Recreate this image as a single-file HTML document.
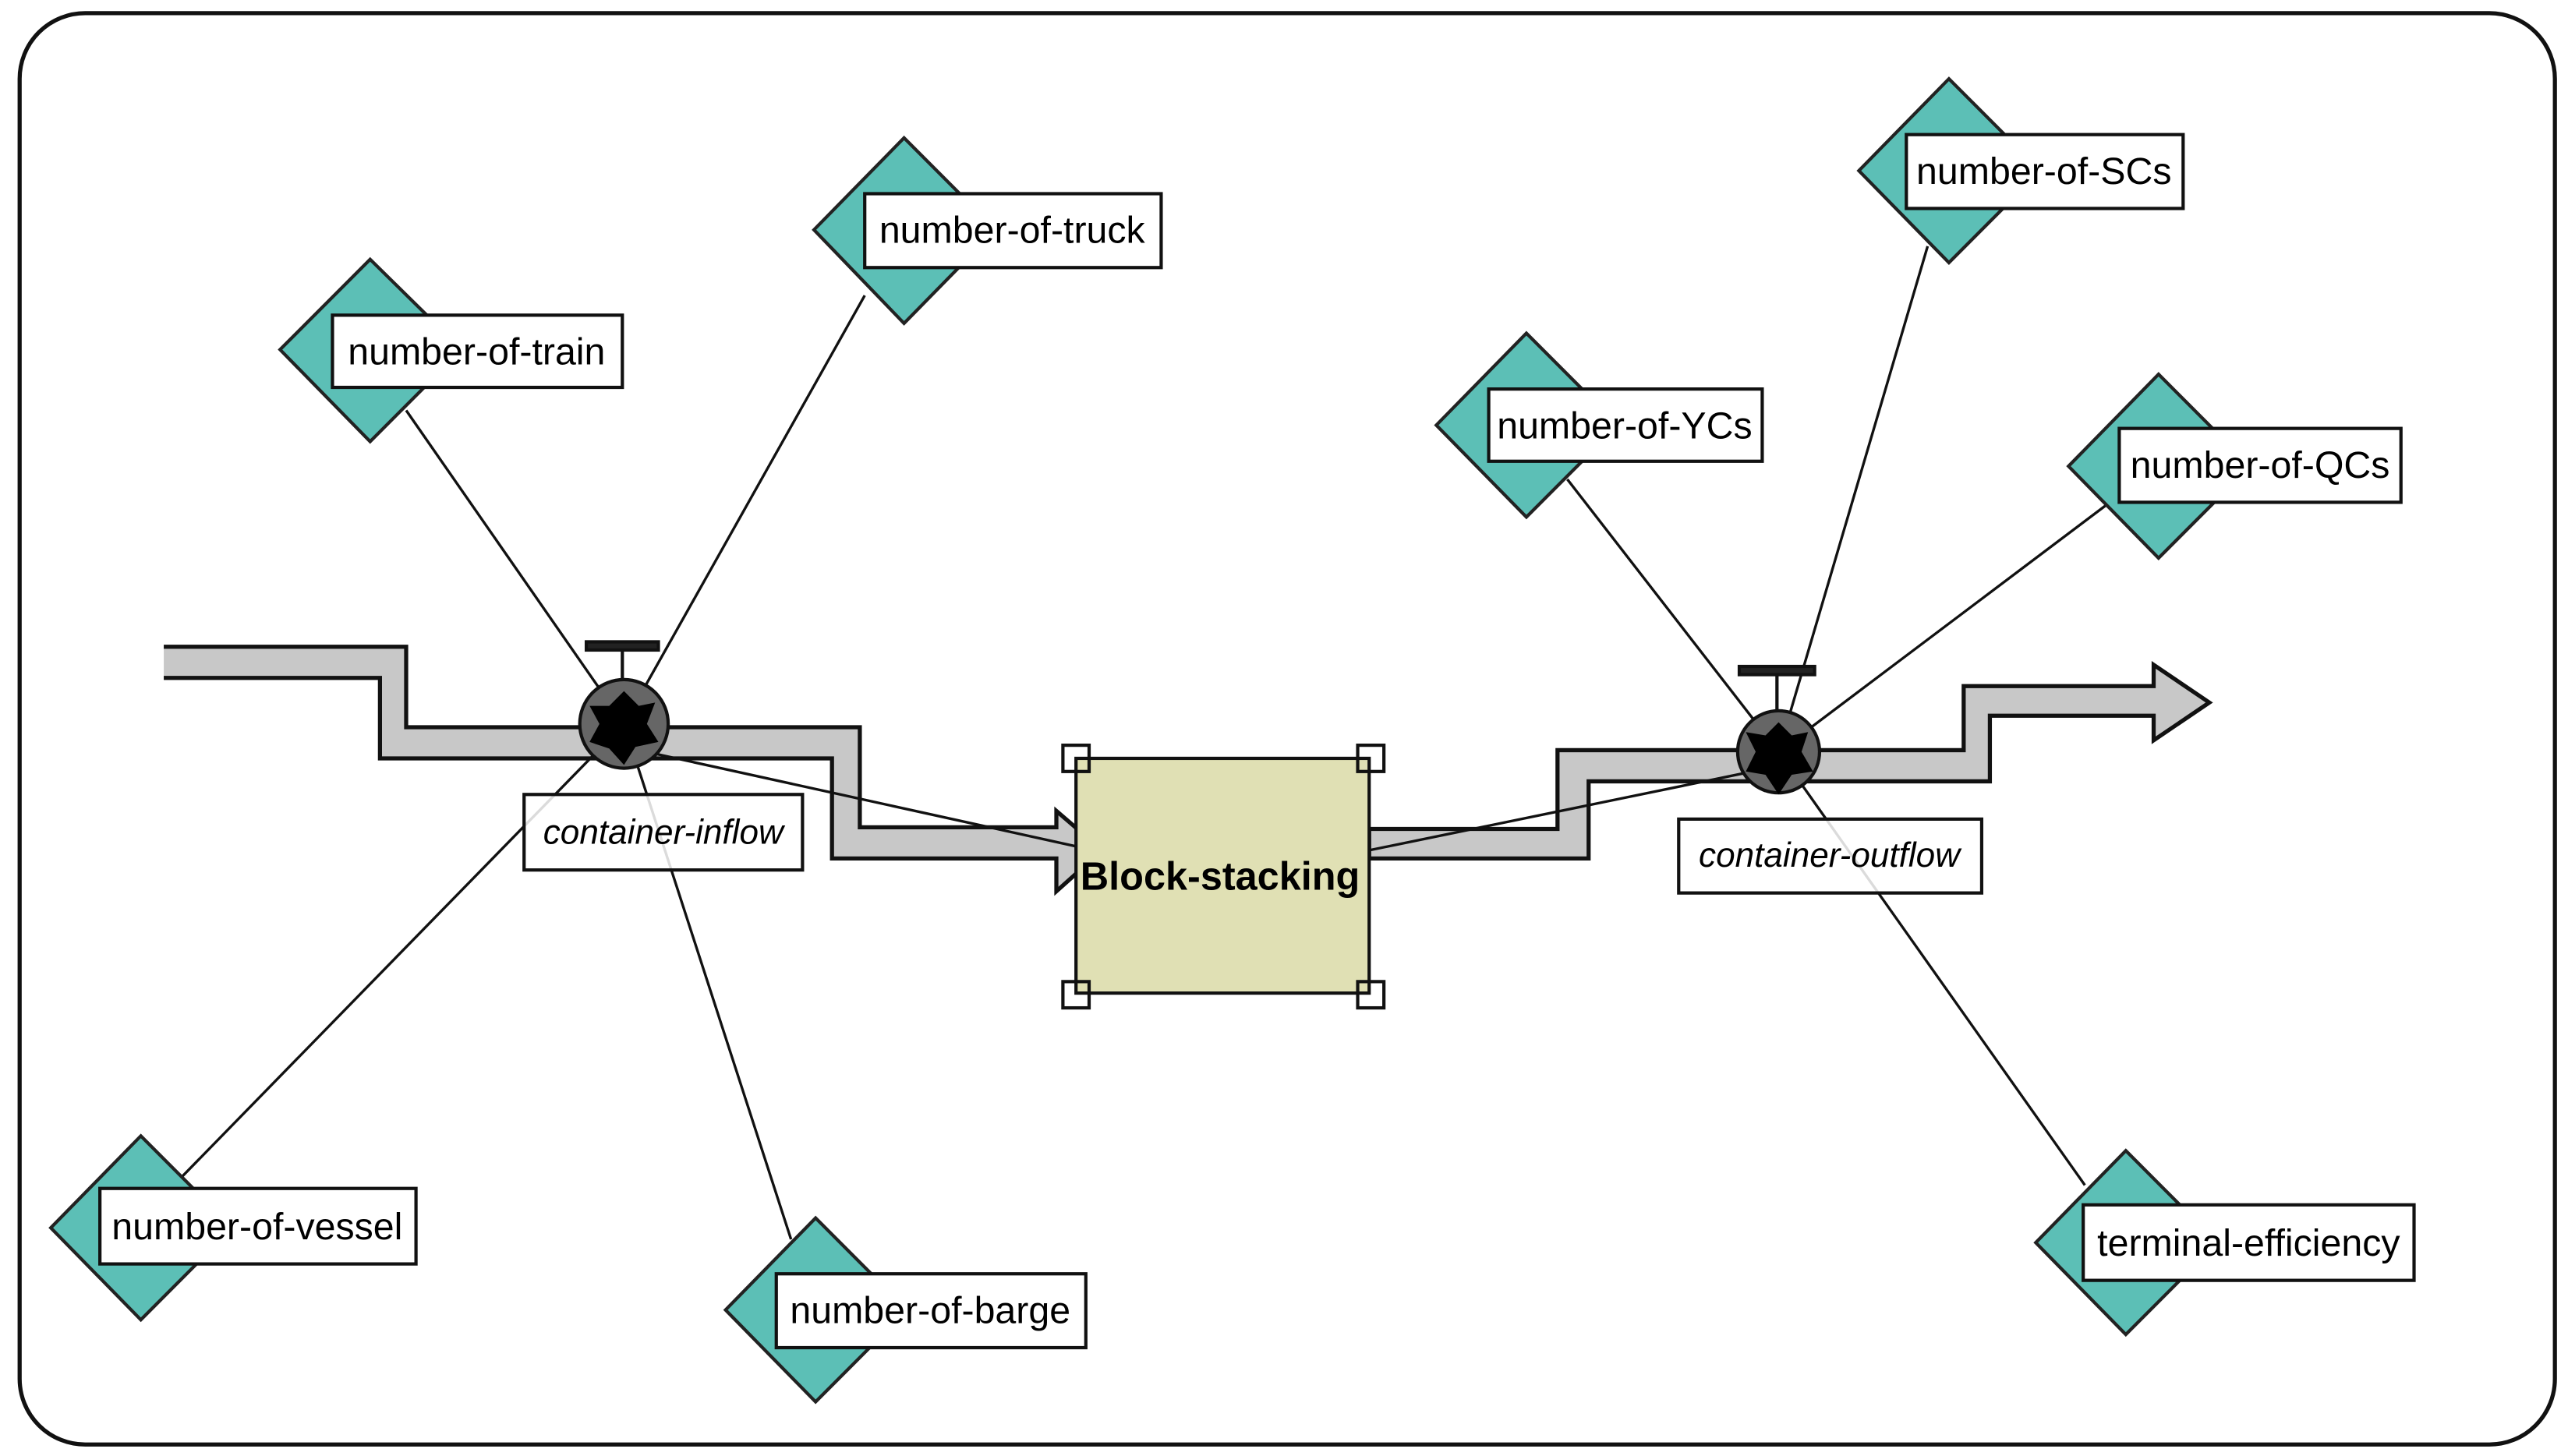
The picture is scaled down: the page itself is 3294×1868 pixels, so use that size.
<!DOCTYPE html>
<html><head><meta charset="utf-8"><style>
html,body{margin:0;padding:0;background:#fff;}
svg{display:block;}
text{font-family:"Liberation Sans","DejaVu Sans",sans-serif;}
</style></head><body>
<svg width="3294" height="1868" viewBox="0 0 1568 887" preserveAspectRatio="none" xmlns="http://www.w3.org/2000/svg">
<rect x="12" y="8" width="1548" height="872" rx="40" ry="40" fill="#fff" stroke="#111" stroke-width="2.5"/>

<!-- inflow pipe -->
<path d="M100,394 L248,394 L248,443 L525,443 L525,504 L645,504 L645,494 L673,518 L645,543 L645,523 L508,523 L508,462 L232,462 L232,413 L100,413" fill="#c8c8c8" stroke="#111" stroke-width="2.5"/>
<!-- outflow pipe -->
<path d="M836,505 L951,505 L951,457 L1199,457 L1199,418 L1315,418 L1315,405 L1349,428 L1315,451 L1315,436 L1215,436 L1215,476 L970,476 L970,523 L836,523 Z" fill="#c8c8c8" stroke="#111" stroke-width="2.5"/>

<!-- connector lines -->
<g stroke="#111" stroke-width="1.6" fill="none">
<line x1="381" y1="441" x2="248" y2="250"/>
<line x1="381" y1="441" x2="528" y2="180"/>
<line x1="381" y1="441" x2="110" y2="718"/>
<line x1="381" y1="441" x2="483" y2="755"/>
<line x1="381" y1="455" x2="668" y2="518"/>
<line x1="836" y1="518" x2="1070" y2="470"/>
<line x1="1086" y1="458" x2="957" y2="292"/>
<line x1="1086" y1="458" x2="1177" y2="150"/>
<line x1="1086" y1="458" x2="1287" y2="307"/>
<line x1="1086" y1="458" x2="1273" y2="722"/>
</g>

<!-- valves -->
<g stroke="#111" stroke-width="2">
<line x1="380" y1="396" x2="380" y2="414"/>
<rect x="358" y="391" width="44" height="5" fill="#222"/>
<circle cx="381" cy="441" r="27" fill="#666"/>
<polygon points="381,421 390,430 400,428 395,441 402,452 388,455 381,466 372,456 360,452 366,441 360,430 372,430" fill="#000" stroke="none"/>
<line x1="1085" y1="411" x2="1085" y2="434"/>
<rect x="1062" y="406" width="46" height="5" fill="#222"/>
<circle cx="1086" cy="458" r="25" fill="#666"/>
<polygon points="1086,440 1094,448 1104,446 1100,458 1107,470 1094,472 1086,484 1078,472 1066,470 1072,458 1066,446 1078,448" fill="#000" stroke="none"/>
</g>

<!-- flow labels -->
<rect x="320" y="484" width="170" height="46" fill="#fff" stroke="#111" stroke-width="2" fill-opacity="0.85"/>
<text x="405" y="514" font-size="21" font-style="italic" text-anchor="middle">container-inflow</text>
<rect x="1025" y="499" width="185" height="45" fill="#fff" stroke="#111" stroke-width="2" fill-opacity="0.85"/>
<text x="1117" y="528" font-size="21" font-style="italic" text-anchor="middle">container-outflow</text>

<!-- block -->
<rect x="657" y="462" width="179" height="143" fill="#e0e0b4" stroke="#111" stroke-width="2"/>
<g fill="none" stroke="#111" stroke-width="2">
<rect x="649" y="454" width="16" height="16"/><rect x="829" y="454" width="16" height="16"/>
<rect x="649" y="598" width="16" height="16"/><rect x="829" y="598" width="16" height="16"/>
</g>
<text x="745" y="542" font-size="24" font-weight="bold" text-anchor="middle">Block-stacking</text>

<!-- auxiliaries -->
<g stroke="#222" stroke-width="2" fill="#5cbfb6">
<polygon points="226,158 282,213 226,269 171,213"/>
<polygon points="552,84 608,140 552,197 497,140"/>
<polygon points="86,692 142,748 86,804 31,748"/>
<polygon points="498,742 554,798 498,854 443,798"/>
<polygon points="932,203 988,259 932,315 877,259"/>
<polygon points="1190,48 1246,104 1190,160 1135,104"/>
<polygon points="1318,228 1374,284 1318,340 1263,284"/>
<polygon points="1298,701 1354,757 1298,813 1243,757"/>
</g>
<g fill="#fff" stroke="#111" stroke-width="2">
<rect x="203" y="192" width="177" height="44"/>
<rect x="528" y="118" width="181" height="45"/>
<rect x="61" y="724" width="193" height="46"/>
<rect x="474" y="776" width="189" height="45"/>
<rect x="909" y="237" width="167" height="44"/>
<rect x="1164" y="82" width="169" height="45"/>
<rect x="1294" y="261" width="172" height="45"/>
<rect x="1272" y="734" width="202" height="46"/>
</g>
<g font-size="23" text-anchor="middle">
<text x="291" y="222">number-of-train</text>
<text x="618" y="148">number-of-truck</text>
<text x="157" y="755">number-of-vessel</text>
<text x="568" y="806">number-of-barge</text>
<text x="992" y="267">number-of-YCs</text>
<text x="1248" y="112">number-of-SCs</text>
<text x="1380" y="291">number-of-QCs</text>
<text x="1373" y="765">terminal-efficiency</text>
</g>
</svg>
</body></html>
